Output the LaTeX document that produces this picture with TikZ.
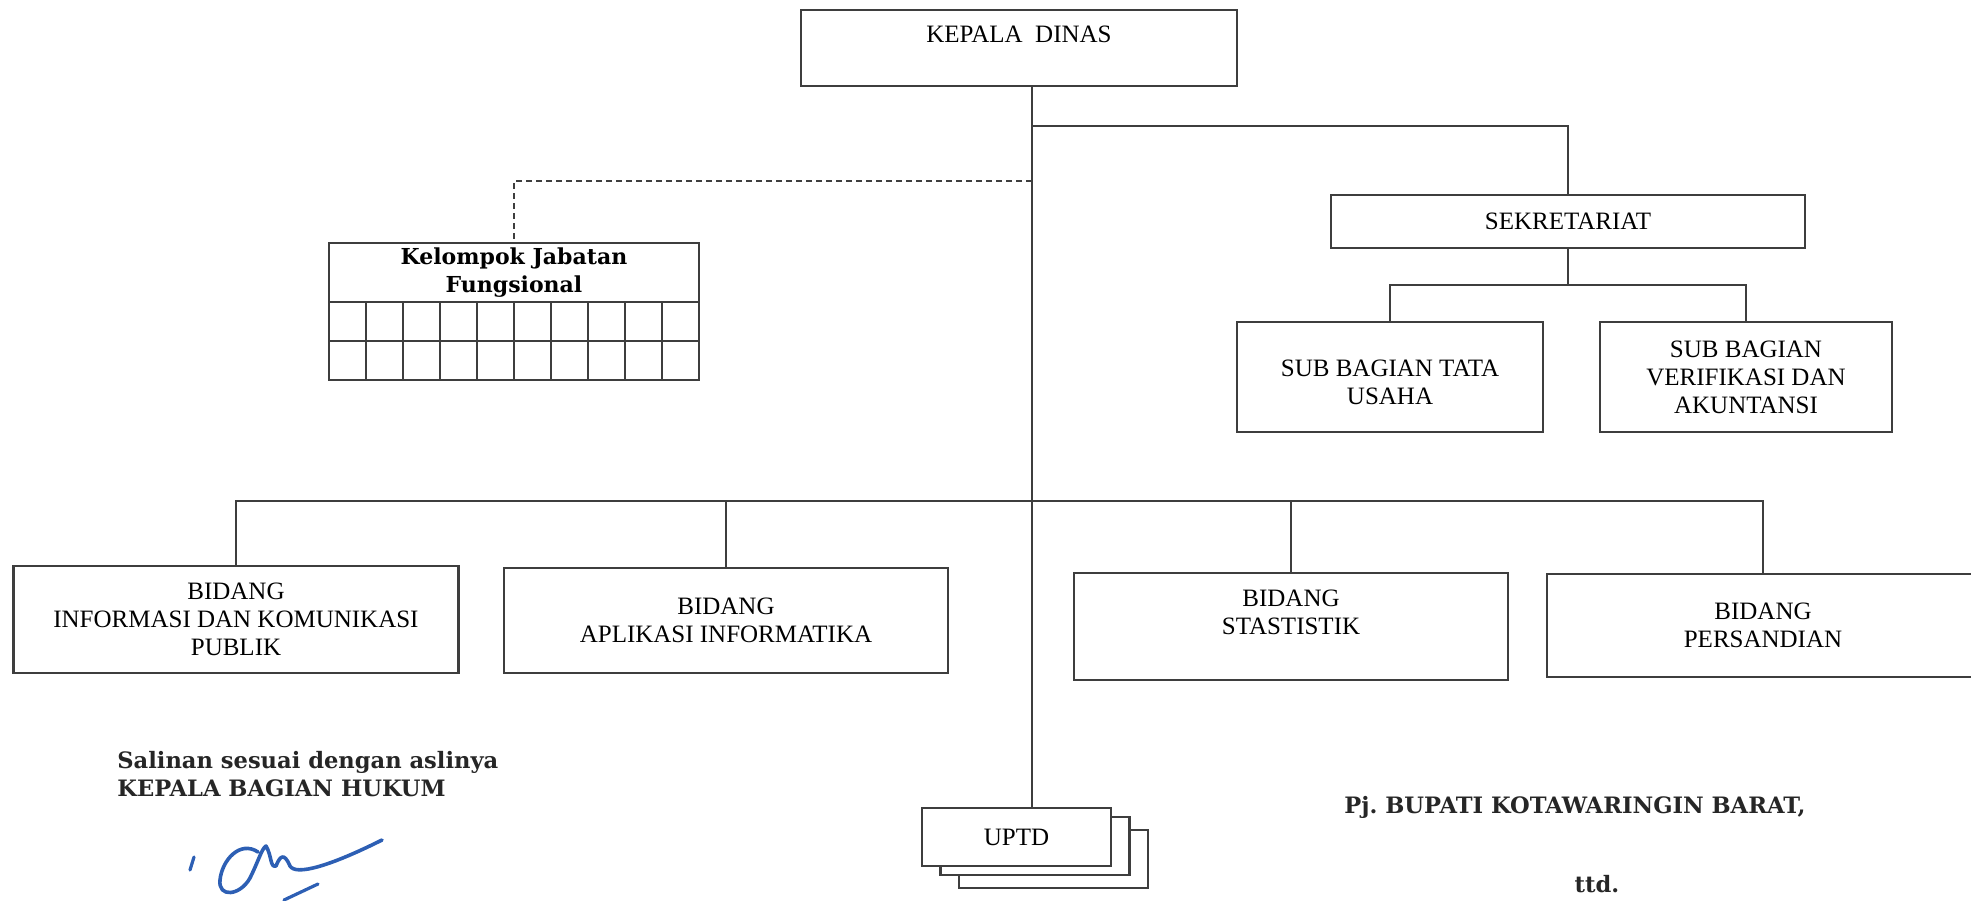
\documentclass[tikz,border=0pt]{standalone}
\usepackage{fontspec}
\setmainfont{Liberation Serif}
\newfontfamily\slabfont{DejaVu Serif}
\usetikzlibrary{positioning,calc}

\definecolor{inkgray}{RGB}{62,62,62}
\definecolor{inkblue}{RGB}{45,95,180}

\begin{document}
\frenchspacing
\begin{tikzpicture}[x=0.5pt,y=-0.5pt,
  unit/.style={rectangle,draw=inkgray,line width=1.2pt,fill=white,
               inner sep=0pt,outer sep=0pt,align=center,
               font=\fontsize{12.5}{14}\selectfont},
  cell/.style={rectangle,draw=inkgray,line width=0.8pt,inner sep=0pt,
               minimum width=18.5pt,minimum height=19.5pt},
  link/.style={draw=inkgray,line width=1pt},
  dashlink/.style={link,dash pattern=on 3pt off 2pt},
  sign/.style={font=\slabfont\bfseries\fontsize{11.3}{14}\selectfont,
               text=black!85,inner sep=0pt,align=left}]
\useasboundingbox (0,0) rectangle (1971,900);
\clip (0,0) rectangle (1971,900);
%%
%% Top of the chart
\node[unit,minimum width=218pt,minimum height=38pt] (kd) at (1019,48) {KEPALA\ \ DINAS\\\mbox{}};
\node[unit,minimum width=237pt,minimum height=26.5pt] (sek) at (1568,221.5) {SEKRETARIAT};
\node[unit,minimum width=153pt,minimum height=55pt] (tu) at (1390,377) {\mbox{}\\SUB BAGIAN TATA\\USAHA};
\node[unit,minimum width=146pt,minimum height=55pt] (va) at (1746,377) {SUB BAGIAN\\VERIFIKASI DAN\\AKUNTANSI};
%%
%% Functional group with its grid of cells
\node[unit,minimum width=185pt,minimum height=29.5pt,
      font=\slabfont\bfseries\fontsize{11}{14}\selectfont] (kjf) at (514,272.5) {Kelompok Jabatan\\Fungsional};
\foreach \c in {0,...,9}
  \foreach \r in {0,1}
    \node[cell] (cell-\c-\r) at (347.5+37*\c,321.5+39*\r) {};
%%
%% Divisions
\node[unit,minimum width=222.5pt,minimum height=53.5pt] (bip) at (236,619.5) {BIDANG\\INFORMASI DAN KOMUNIKASI\\PUBLIK};
\node[unit,minimum width=222pt,minimum height=52.5pt] (bai) at (726,620.5) {BIDANG\\APLIKASI INFORMATIKA};
\node[unit,minimum width=217pt,minimum height=53.5pt] (bst) at (1291,626.5) {BIDANG\\STASTISTIK\\\mbox{}};
\node[unit,minimum width=216pt,minimum height=51.5pt] (bps) at (1763,625.5) {BIDANG\\PERSANDIAN};
%%
%% Stacked UPTD boxes (back to front)
\node[unit,minimum width=94.5pt,minimum height=29pt] (uptd3) at (1053.5,859) {};
\node[unit,minimum width=94.5pt,minimum height=29pt] (uptd2) at (1035,846) {};
\node[unit,minimum width=94.5pt,minimum height=29pt] (uptd) at (1016.5,837) {UPTD};
%%
%% Junctions on the spine
\coordinate (jsek) at (1032,126);
\coordinate (jfun) at (1032,181);
\coordinate (jbid) at (1032,501);
\coordinate (jsub) at (1568,285);
%%
%% Connectors
\draw[link] (kd.south -| jsek) -- (uptd.north -| jsek);
\draw[link] (jsek) -| (sek.north);
\draw[link] (sek.south) -- (jsub);
\draw[link] (tu.north) |- (jsub) -| (va.north);
\draw[dashlink] (jfun) -| (kjf.north);
\draw[link] (bip.north) |- (jbid) -| (bps.north);
\draw[link] (bai.north) -- (bai.north |- jbid);
\draw[link] (bst.north) -- (bst.north |- jbid);
%%
%% Legalisation and signature block
\node[sign,anchor=base west] (legal) at (117,768) {Salinan sesuai dengan aslinya};
\node[sign,anchor=base west] (head) at ($(legal.base west)+(0,28)$) {KEPALA BAGIAN HUKUM};
\node[sign,anchor=base] (bupati) at (1575,813) {Pj. BUPATI KOTAWARINGIN BARAT,};
\node[sign,anchor=base] (ttd) at (1597,892) {ttd.};
%%
%% Hand signature
\draw[inkblue,line width=1.6pt,line cap=round] (194,857) -- (190,870);
\draw[inkblue,line width=1.8pt,line cap=round,line join=round]
  (258,852) .. controls (240,840) and (222,860) .. (220,880)
  .. controls (218,898) and (240,896) .. (250,878)
  .. controls (258,862) and (262,848) .. (266,846)
  .. controls (272,856) and (270,868) .. (276,866)
  .. controls (280,856) and (284,852) .. (290,866)
  .. controls (296,876) and (330,866) .. (382,840);
\draw[inkblue,line width=1.6pt,line cap=round] (284,900) -- (318,884);
\end{tikzpicture}
\end{document}
